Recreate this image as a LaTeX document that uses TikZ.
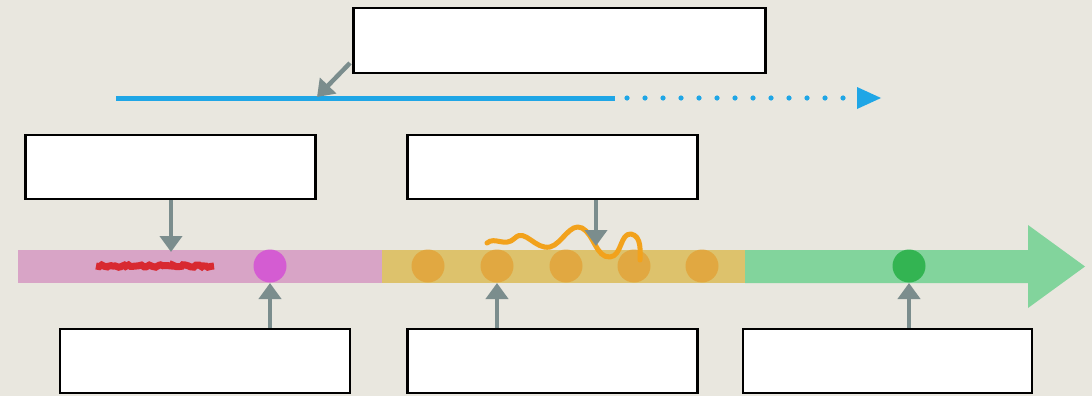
\documentclass[tikz,border=0pt]{standalone}
\usetikzlibrary{arrows.meta,decorations.pathmorphing}
\definecolor{bg}{HTML}{E9E7DF}
\definecolor{pinkbar}{HTML}{D8A4C6}
\definecolor{yellowbar}{HTML}{DDC26C}
\definecolor{greenbar}{HTML}{82D49C}
\definecolor{pointer}{HTML}{7B8D8D}
\definecolor{bluel}{HTML}{1FA6E6}
\definecolor{magdot}{HTML}{D45CD2}
\definecolor{orgdot}{HTML}{E2A43A}
\definecolor{grndot}{HTML}{33B452}
\definecolor{squig}{HTML}{F2A21C}
\tikzset{
  x=1pt,y=-1pt,
  labelbox/.style={draw=black,line width=2.2pt,fill=white,minimum width=#1,minimum height=64pt,inner sep=0pt},
  labelbox/.default=290pt,
  pointerarrow/.style={draw=pointer,line width=4.5pt,-{Triangle[width=22pt,length=16pt]}},
  dotc/.style={circle,minimum size=33pt,inner sep=0pt}
}
\begin{document}
\begin{tikzpicture}
\fill[bg] (0,0) rectangle (1092,396);
\useasboundingbox (0,0) rectangle (1092,396);
% timeline bar
\fill[pinkbar] (18,250) rectangle (382,283);
\fill[yellowbar] (382,250) rectangle (745,283);
\fill[greenbar] (745,250) -- (1028,250) -- (1028,225) -- (1085,266.5) -- (1028,308) -- (1028,283) -- (745,283) -- cycle;
% red scribble
\draw[red!85!black,line width=7pt,opacity=0.75,decorate,decoration={random steps,segment length=2.5pt,amplitude=1.2pt}] (96,266) -- (214,266);
% dots
\node[dotc,fill=magdot] (m1) at (270,266) {};
\foreach \i/\xx in {1/428,2/497,3/566,4/634,5/702}{
  \node[dotc,fill=orgdot,opacity=0.85] (o\i) at (\xx,266) {};
}
\node[dotc,fill=grndot] (g1) at (909,266) {};
% squiggle
\draw[squig,line width=5pt,line cap=round,line join=round]
  (487,243) .. controls (495,236) and (505,248) .. (515,238)
  .. controls (525,228) and (535,250) .. (550,247)
  .. controls (562,244) and (570,222) .. (582,228)
  .. controls (594,234) and (596,258) .. (610,257)
  .. controls (622,256) and (620,233) .. (631,234)
  .. controls (642,236) and (640,252) .. (640,260);
% blue line
\coordinate (bstart) at (116,98);
\coordinate (bmid) at (615,98);
\draw[bluel,line width=5pt] (bstart) -- (bmid);
\foreach \k in {0,...,12}{
  \fill[bluel] ({627+18*\k},98) circle (2.6pt);
}
\fill[bluel] (857,87) -- (881,98) -- (857,109) -- cycle;
% boxes
\node[labelbox=412pt,minimum height=65pt] (top) at (559.5,40.5) {};
\node[labelbox] (bl) at (170.5,167) {};
\node[labelbox] (bm) at (552.5,167) {};
\node[labelbox] (dl) at (205,361) {};
\node[labelbox] (dm) at (552.5,361) {};
\node[labelbox=289pt] (dr) at (887.5,361) {};
% pointer targets
\coordinate (tblue) at (317,97);
\coordinate (tred) at (171,252);
\coordinate (tsq) at (596,246);
\coordinate (tm) at (270,283);
\coordinate (to) at (497,283);
\coordinate (tg) at (909,283);
\draw[pointerarrow] (350,63) -- (tblue);
\draw[pointerarrow] (bl.south -| tred) -- (tred);
\draw[pointerarrow] (bm.south -| tsq) -- (tsq);
\draw[pointerarrow] (dl.north -| tm) -- (tm);
\draw[pointerarrow] (dm.north -| to) -- (to);
\draw[pointerarrow] (dr.north -| tg) -- (tg);
\end{tikzpicture}
\end{document}
